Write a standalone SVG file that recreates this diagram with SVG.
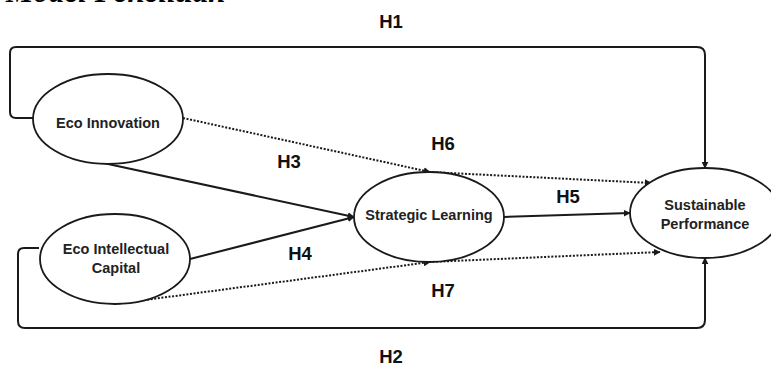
<svg xmlns="http://www.w3.org/2000/svg" width="771" height="365" viewBox="0 0 771 365">
<defs>
<marker id="arr" viewBox="0 0 10 10" refX="9" refY="5" markerWidth="7" markerHeight="7" markerUnits="userSpaceOnUse" orient="auto">
<path d="M0,0 L10,5 L0,10 Z" fill="#1a1a1a"/>
</marker>
<style>
.node{fill:#fff;stroke:#1a1a1a;stroke-width:1.8}
.nt{font-family:"Liberation Sans",Arial,sans-serif;font-weight:bold;font-size:14.5px;fill:#222;text-anchor:middle}
.lbl{font-family:"Liberation Sans",Arial,sans-serif;font-weight:bold;font-size:18.5px;fill:#111;text-anchor:middle}
.solid{fill:none;stroke:#1a1a1a;stroke-width:2}
.dot{fill:none;stroke:#1a1a1a;stroke-width:2;stroke-dasharray:2 1.6}
.title{font-family:"Liberation Serif","Times New Roman",serif;font-weight:bold;font-style:italic;font-size:31px;fill:#000}
</style>
</defs>
<rect width="771" height="365" fill="#fff"/>
<text class="title" x="6" y="1.5">Model Penelitian</text>
<g id="connectors">
<path class="solid" d="M33,118 L16,118 Q10,118 10,112 L10,53 Q10,47 16,47 L697,47 Q705,47 705,55 L705,168" marker-end="url(#arr)"/>
<path class="solid" d="M39,248 L24,248 Q18,248 18,254 L18,321 Q18,328 25,328 L697,328 Q705,328 705,320 L705,258" marker-end="url(#arr)"/>
<path class="solid" d="M108,164 L354,217" marker-end="url(#arr)"/>
<path class="solid" d="M190,259 L354,217" marker-end="url(#arr)"/>
<path class="solid" d="M504,217 L630,213" marker-end="url(#arr)"/>
<path class="dot" d="M183,118 L430,172" marker-end="url(#arr)"/>
<path class="dot" d="M429,172 L651,183" marker-end="url(#arr)"/>
<path class="dot" d="M115,304 L430,262" marker-end="url(#arr)"/>
<path class="dot" d="M429,262 L660,252" marker-end="url(#arr)"/>
</g>
<g id="eco-innovation">
<ellipse class="node" cx="108" cy="119" rx="75" ry="45"/>
<text class="nt" x="108" y="128">Eco Innovation</text>
</g>
<g id="eco-intellectual-capital">
<ellipse class="node" cx="115" cy="259" rx="75" ry="45"/>
<text class="nt" x="116" y="254">Eco Intellectual</text>
<text class="nt" x="116" y="273">Capital</text>
</g>
<g id="strategic-learning">
<ellipse class="node" cx="429" cy="217" rx="75" ry="45"/>
<text class="nt" x="429" y="220">Strategic Learning</text>
</g>
<g id="sustainable-performance">
<ellipse class="node" cx="705" cy="213" rx="75" ry="45"/>
<text class="nt" x="705" y="210">Sustainable</text>
<text class="nt" x="705" y="229">Performance</text>
</g>
<g id="labels">
<text class="lbl" x="391" y="28">H1</text>
<text class="lbl" x="391" y="363">H2</text>
<text class="lbl" x="289" y="168">H3</text>
<text class="lbl" x="300" y="260">H4</text>
<text class="lbl" x="568" y="203">H5</text>
<text class="lbl" x="443" y="150">H6</text>
<text class="lbl" x="443" y="297">H7</text>
</g>
</svg>
